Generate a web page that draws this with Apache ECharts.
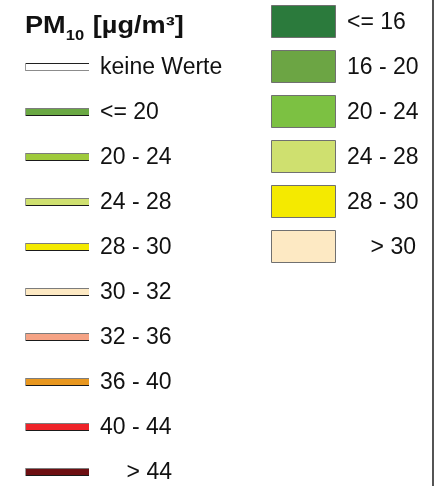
<!DOCTYPE html>
<html>
<head>
<meta charset="utf-8">
<script src="https://cdn.jsdelivr.net/npm/echarts@6/dist/echarts.min.js"></script>
<style>
html,body{margin:0;padding:0;background:#fff;}
#chart{width:446px;height:486px;}
</style>
</head>
<body>
<div id="chart"></div>
<script>
// ---- data ----
const titleMain = 'PM';
const titleSub = '10';
const titleUnit = ' [µg/m³]';
const lineLabels = ['keine Werte', '<= 20', '20 - 24', '24 - 28', '28 - 30', '30 - 32', '32 - 36', '36 - 40', '40 - 44', '> 44'];
const lineColors = ['#ffffff', '#6aa843', '#9fca3c', '#cfe070', '#f4ea00', '#fde9c3', '#f5a385', '#e8971f', '#ee2329', '#6d0f12'];
const boxLabels = ['<= 16', '16 - 20', '20 - 24', '24 - 28', '28 - 30', '> 30'];
const boxColors = ['#2b7a3c', '#6ca544', '#7cc142', '#cfe06f', '#f4ea00', '#fde9c3'];

const FONT = 'Liberation Sans, Arial, sans-serif';
const chart = echarts.init(document.getElementById('chart'), null, {renderer: 'canvas'});

function lineItem(params, api) {
  const i = api.value(1);
  const y = Math.round(api.coord([0, i])[1]);
  const x0 = params.coordSys.x + 25;
  const label = lineLabels[i];
  const isGt = label.charAt(0) === '>';
  const noVal = i === 0;
  const topCol = noVal ? '#202020' : '#7c7c7c';
  const botCol = noVal ? '#8c8c8c' : '#1a1a1a';
  return {
    type: 'group',
    children: [
      {type: 'rect', shape: {x: x0, y: y - 4, width: 64, height: 8},
       style: {fill: lineColors[i]}},
      {type: 'line', shape: {x1: x0, y1: y - 3.5, x2: x0 + 64, y2: y - 3.5},
       style: {stroke: topCol, lineWidth: 1}},
      {type: 'line', shape: {x1: x0, y1: y + 3.5, x2: x0 + 64, y2: y + 3.5},
       style: {stroke: botCol, lineWidth: 1}},
      {type: 'line', shape: {x1: x0 + 0.5, y1: y - 4, x2: x0 + 0.5, y2: y + 4},
       style: {stroke: '#9a9a9a', lineWidth: 1}},
      {type: 'text', style: {text: label, x: isGt ? params.coordSys.x + 172 : params.coordSys.x + 100, y: y + 1,
        align: isGt ? 'right' : 'left', verticalAlign: 'middle', fill: '#111', fontSize: 23, fontFamily: FONT}}
    ]
  };
}

function boxItem(params, api) {
  const i = api.value(1);
  const y = api.coord([0, i])[1];
  const x0 = params.coordSys.x + 271;
  const label = boxLabels[i];
  const isGt = label.charAt(0) === '>';
  return {
    type: 'group',
    children: [
      {type: 'rect', shape: {x: x0 + 0.5, y: Math.round(y - 16.5) + 0.5, width: 64, height: 32},
       style: {fill: boxColors[i], stroke: '#707070', lineWidth: 1}},
      {type: 'text', style: {text: label, x: isGt ? params.coordSys.x + 416 : params.coordSys.x + 347, y: y + 1,
        align: isGt ? 'right' : 'left', verticalAlign: 'middle', fill: '#111', fontSize: 23, fontFamily: FONT}}
    ]
  };
}

const option = {
  backgroundColor: '#ffffff',
  animation: false,
  grid: [
    {left: 0, right: 0, top: 67, height: 405},
    {left: 0, right: 0, top: 21.5, height: 225}
  ],
  xAxis: [
    {gridIndex: 0, type: 'value', min: 0, max: 1, show: false},
    {gridIndex: 1, type: 'value', min: 0, max: 1, show: false}
  ],
  yAxis: [
    {gridIndex: 0, type: 'category', inverse: true, boundaryGap: false, data: lineLabels, show: false},
    {gridIndex: 1, type: 'category', inverse: true, boundaryGap: false, data: boxLabels, show: false}
  ],
  series: [
    {type: 'custom', xAxisIndex: 0, yAxisIndex: 0, renderItem: lineItem,
     data: lineLabels.map((l, i) => [0, i]), clip: false},
    {type: 'custom', xAxisIndex: 1, yAxisIndex: 1, renderItem: boxItem,
     data: boxLabels.map((l, i) => [0, i]), clip: false}
  ],
  graphic: [
    {type: 'line', shape: {x1: 433, y1: 0, x2: 433, y2: 486}, style: {stroke: '#2a2a2a', lineWidth: 1.6}},
    {type: 'text', left: 25, top: 15, scaleX: 1.18, originX: 0,
     style: {
       text: '{b|' + titleMain + '}{s|' + titleSub + '}{b|' + titleUnit + '}',
       rich: {
         b: {fontSize: 23, fontWeight: 'bold', fontFamily: FONT, fill: '#111', lineHeight: 26, verticalAlign: 'bottom'},
         s: {fontSize: 14, fontWeight: 'bold', fontFamily: FONT, fill: '#111', lineHeight: 26, verticalAlign: 'bottom', padding: [0, 1, -5, 0]}
       }
     }}
  ]
};
chart.setOption(option);
</script>
</body>
</html>
